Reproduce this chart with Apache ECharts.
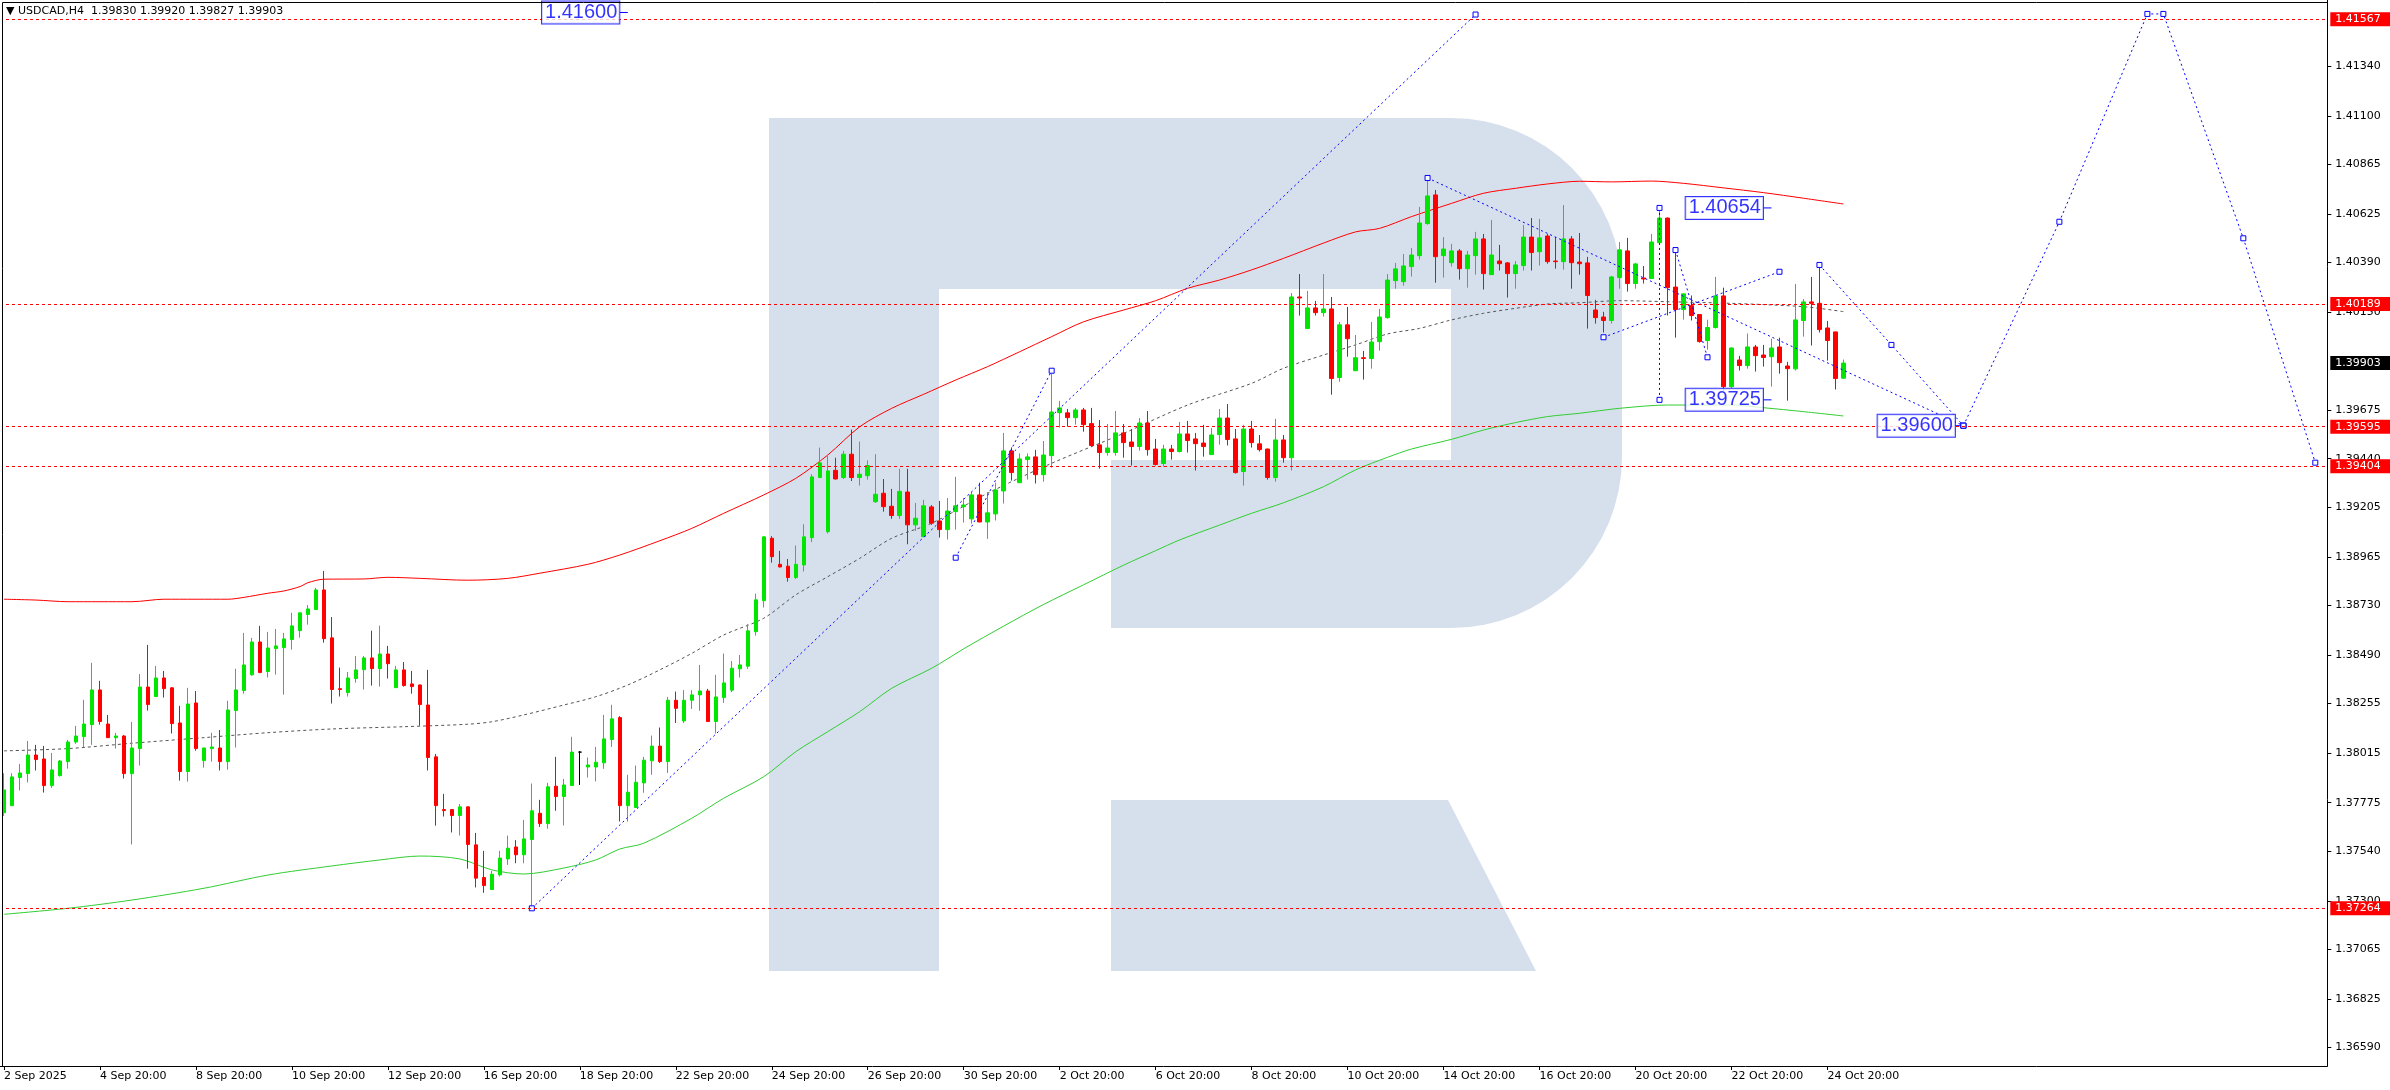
<!DOCTYPE html>
<html><head><meta charset="utf-8">
<script src="https://cdn.jsdelivr.net/npm/echarts@6/dist/echarts.min.js"></script>
<style>html,body{margin:0;padding:0;background:#fff;}#c{width:2390px;height:1090px;}</style>
</head><body><div id="c"></div>
<script>
const symbolName = 'USDCAD,H4';
const totalSlots = 291;
const tickIndex = [0,12,24,36,48,60,72,84,96,108,120,132,144,156,168,180,192,204,216,228];
const tickLabels = ['2 Sep 2025','4 Sep 20:00','8 Sep 20:00','10 Sep 20:00','12 Sep 20:00','16 Sep 20:00','18 Sep 20:00','22 Sep 20:00','24 Sep 20:00','26 Sep 20:00','30 Sep 20:00','2 Oct 20:00','6 Oct 20:00','8 Oct 20:00','10 Oct 20:00','14 Oct 20:00','16 Oct 20:00','20 Oct 20:00','22 Oct 20:00','24 Oct 20:00'];
const yTicks = [1.41340,1.41100,1.40865,1.40625,1.40390,1.40150,1.39675,1.39440,1.39205,1.38965,1.38730,1.38490,1.38255,1.38015,1.37775,1.37540,1.37300,1.37065,1.36825,1.36590];
const yMin = 1.365007, yMax = 1.416604;

const opens = [1.37727,1.37761,1.37897,1.37916,1.38006,1.37987,1.37858,1.37906,1.37974,1.38069,
1.38095,1.38153,1.38321,1.38156,1.38090,1.38098,1.37916,1.38037,1.38335,1.38289,
1.38379,1.38331,1.38161,1.37926,1.38258,1.37979,1.38037,1.38040,1.37974,1.38221,
1.38318,1.38394,1.38553,1.38410,1.38521,1.38526,1.38565,1.38608,1.38686,1.38710,
1.38805,1.38573,1.38327,1.38308,1.38376,1.38419,1.38476,1.38424,1.38495,1.38332,
1.38418,1.38350,1.38345,1.38248,1.37997,1.37742,1.37742,1.37713,1.37755,1.37571,
1.37413,1.37355,1.37426,1.37503,1.37561,1.37523,1.37597,1.37724,1.37674,1.37855,
1.37805,1.37858,1.38020,1.37948,1.37948,1.37968,1.38081,1.38187,1.37761,1.37752,
1.37871,1.37978,1.38049,1.37974,1.38271,1.38171,1.38271,1.38297,1.38316,1.38168,
1.38284,1.38320,1.38423,1.38436,1.38603,1.38753,1.39055,1.38929,1.38920,1.38865,
1.38926,1.39058,1.39349,1.39087,1.39384,1.39349,1.39462,1.39349,1.39358,1.39232,
1.39273,1.39210,1.39165,1.39279,1.39120,1.39063,1.39207,1.39139,1.39097,1.39184,
1.39208,1.39149,1.39265,1.39134,1.39173,1.39284,1.39478,1.39324,1.39436,1.39449,
1.39363,1.39455,1.39663,1.39662,1.39639,1.39676,1.39610,1.39507,1.39470,1.39470,
1.39565,1.39521,1.39499,1.39613,1.39487,1.39417,1.39487,1.39475,1.39560,1.39536,
1.39516,1.39460,1.39557,1.39637,1.39536,1.39378,1.39584,1.39512,1.39487,1.39349,
1.39531,1.39445,1.40223,1.40070,1.40170,1.40147,1.40165,1.39833,1.40088,1.39866,
1.39929,1.39925,1.40007,1.40123,1.40302,1.40297,1.40370,1.40423,1.40578,1.40717,
1.40423,1.40389,1.40446,1.40360,1.40423,1.40504,1.40331,1.40397,1.40388,1.40336,
1.40375,1.40513,1.40442,1.40518,1.40397,1.40394,1.40504,1.40392,1.40388,1.40160,
1.40126,1.40109,1.40317,1.40446,1.40288,1.40315,1.40312,1.40486,1.40605,1.40271,
1.40162,1.40181,1.40138,1.40012,1.40075,1.40228,1.39789,1.39918,1.39891,1.39981,
1.39942,1.39934,1.39981,1.39889,1.39875,1.40109,1.40199,1.40192,1.40073,1.40054,
1.39830];
const highs = [1.37918,1.37918,1.37963,1.38074,1.38055,1.38050,1.38016,1.37982,1.38079,1.38147,
1.38273,1.38452,1.38365,1.38200,1.38113,1.38103,1.38166,1.38398,1.38539,1.38437,
1.38413,1.38335,1.38244,1.38331,1.38316,1.38041,1.38113,1.38127,1.38268,1.38423,
1.38597,1.38573,1.38631,1.38602,1.38616,1.38597,1.38694,1.38695,1.38732,1.38815,
1.38897,1.38674,1.38429,1.38408,1.38485,1.38485,1.38608,1.38632,1.38534,1.38437,
1.38456,1.38413,1.38347,1.38418,1.38011,1.37818,1.37743,1.37769,1.37756,1.37629,
1.37542,1.37445,1.37542,1.37616,1.37594,1.37692,1.37868,1.37789,1.37871,1.37997,
1.37890,1.38094,1.38025,1.37994,1.38045,1.38200,1.38249,1.38194,1.37910,1.37955,
1.37997,1.38100,1.38139,1.38287,1.38313,1.38320,1.38320,1.38442,1.38326,1.38394,
1.38497,1.38461,1.38490,1.38639,1.38787,1.39064,1.39065,1.38994,1.38955,1.39020,
1.39123,1.39365,1.39494,1.39455,1.39445,1.39478,1.39581,1.39523,1.39432,1.39462,
1.39342,1.39294,1.39391,1.39391,1.39226,1.39241,1.39216,1.39236,1.39250,1.39352,
1.39250,1.39279,1.39324,1.39279,1.39324,1.39565,1.39495,1.39466,1.39466,1.39483,
1.39526,1.39850,1.39720,1.39681,1.39686,1.39686,1.39686,1.39628,1.39608,1.39671,
1.39608,1.39584,1.39637,1.39671,1.39536,1.39507,1.39507,1.39618,1.39623,1.39565,
1.39604,1.39589,1.39681,1.39705,1.39584,1.39604,1.39623,1.39555,1.39489,1.39633,
1.39555,1.40242,1.40334,1.40252,1.40204,1.40334,1.40223,1.40102,1.40175,1.40039,
1.39962,1.40102,1.40165,1.40334,1.40388,1.40431,1.40460,1.40659,1.40795,1.40741,
1.40513,1.40480,1.40455,1.40446,1.40538,1.40528,1.40596,1.40475,1.40392,1.40397,
1.40572,1.40605,1.40601,1.40528,1.40513,1.40668,1.40518,1.40533,1.40417,1.40209,
1.40151,1.40325,1.40489,1.40509,1.40388,1.40373,1.40528,1.40654,1.40607,1.40436,
1.40239,1.40230,1.40139,1.40113,1.40320,1.40268,1.39978,1.39938,1.40046,1.39991,
1.39991,1.40021,1.40026,1.39909,1.40286,1.40213,1.40320,1.40378,1.40107,1.40055,
1.39920];
const lows = [1.37711,1.37758,1.37834,1.37873,1.37931,1.37824,1.37847,1.37902,1.37940,1.38060,
1.38044,1.38055,1.38153,1.38088,1.38037,1.37892,1.37573,1.37955,1.38221,1.38287,
1.38284,1.38110,1.37882,1.37877,1.38027,1.37945,1.37974,1.37931,1.37935,1.38042,
1.38303,1.38390,1.38402,1.38381,1.38395,1.38298,1.38516,1.38574,1.38637,1.38708,
1.38550,1.38255,1.38289,1.38289,1.38356,1.38323,1.38342,1.38337,1.38376,1.38331,
1.38337,1.38303,1.38148,1.37931,1.37664,1.37708,1.37631,1.37616,1.37456,1.37365,
1.37339,1.37353,1.37418,1.37474,1.37482,1.37482,1.37264,1.37658,1.37649,1.37736,
1.37665,1.37857,1.37861,1.37897,1.37878,1.37939,1.38045,1.37684,1.37684,1.37750,
1.37823,1.37910,1.37968,1.37919,1.38161,1.38161,1.38229,1.38220,1.38166,1.38110,
1.38258,1.38310,1.38381,1.38423,1.38584,1.38720,1.38937,1.38915,1.38845,1.38858,
1.38894,1.39036,1.39347,1.39078,1.39339,1.39342,1.39332,1.39310,1.39339,1.39226,
1.39184,1.39149,1.39149,1.39026,1.39091,1.39062,1.39120,1.39058,1.39049,1.39097,
1.39131,1.39126,1.39133,1.39052,1.39141,1.39223,1.39334,1.39323,1.39339,1.39320,
1.39329,1.39397,1.39591,1.39595,1.39605,1.39571,1.39499,1.39392,1.39455,1.39455,
1.39445,1.39407,1.39479,1.39455,1.39407,1.39402,1.39436,1.39470,1.39470,1.39383,
1.39450,1.39458,1.39508,1.39504,1.39368,1.39310,1.39494,1.39475,1.39339,1.39329,
1.39421,1.39383,1.40133,1.40068,1.40133,1.40128,1.39750,1.39813,1.39934,1.39865,
1.39823,1.39876,1.39963,1.40118,1.40263,1.40278,1.40322,1.40404,1.40573,1.40292,
1.40317,1.40370,1.40307,1.40268,1.40331,1.40259,1.40330,1.40351,1.40220,1.40263,
1.40351,1.40351,1.40375,1.40384,1.40360,1.40355,1.40263,1.40331,1.40070,1.40094,
1.40051,1.40094,1.40263,1.40249,1.40263,1.40288,1.40310,1.40484,1.40133,1.40026,
1.40113,1.40109,1.40002,1.39968,1.40070,1.39765,1.39780,1.39867,1.39876,1.39862,
1.39886,1.39789,1.39852,1.39721,1.39867,1.40031,1.39988,1.40051,1.39915,1.39775,
1.39827];
const closes = [1.37837,1.37900,1.37919,1.38006,1.37984,1.37858,1.37934,1.37977,1.38069,1.38098,
1.38156,1.38321,1.38168,1.38090,1.38098,1.37916,1.38040,1.38335,1.38250,1.38379,
1.38327,1.38158,1.37926,1.38253,1.38037,1.38040,1.38045,1.37974,1.38224,1.38321,
1.38442,1.38553,1.38405,1.38524,1.38534,1.38568,1.38631,1.38694,1.38713,1.38805,
1.38569,1.38323,1.38323,1.38379,1.38418,1.38476,1.38424,1.38495,1.38448,1.38418,
1.38342,1.38337,1.38250,1.37994,1.37761,1.37737,1.37713,1.37755,1.37573,1.37410,
1.37374,1.37429,1.37507,1.37555,1.37523,1.37600,1.37736,1.37674,1.37852,1.37805,
1.37861,1.38020,1.38020,1.37958,1.37971,1.38084,1.38181,1.37761,1.37826,1.37874,
1.37981,1.38049,1.37974,1.38271,1.38232,1.38271,1.38297,1.38316,1.38168,1.38287,
1.38355,1.38426,1.38442,1.38607,1.38757,1.39062,1.38966,1.38916,1.38865,1.38929,
1.39062,1.39352,1.39420,1.39381,1.39342,1.39462,1.39349,1.39365,1.39407,1.39268,
1.39208,1.39165,1.39282,1.39120,1.39152,1.39212,1.39128,1.39097,1.39187,1.39212,
1.39216,1.39265,1.39134,1.39178,1.39289,1.39478,1.39373,1.39439,1.39449,1.39363,
1.39458,1.39666,1.39686,1.39639,1.39676,1.39605,1.39504,1.39470,1.39492,1.39565,
1.39518,1.39499,1.39613,1.39484,1.39412,1.39487,1.39475,1.39560,1.39528,1.39513,
1.39499,1.39555,1.39637,1.39533,1.39373,1.39584,1.39518,1.39484,1.39349,1.39531,
1.39445,1.40223,1.40218,1.40170,1.40147,1.40165,1.39828,1.40088,1.40021,1.39929,
1.39925,1.40005,1.40126,1.40305,1.40359,1.40373,1.40426,1.40581,1.40712,1.40418,
1.40455,1.40446,1.40360,1.40426,1.40504,1.40336,1.40426,1.40384,1.40336,1.40378,
1.40513,1.40438,1.40509,1.40394,1.40394,1.40504,1.40389,1.40384,1.40230,1.40123,
1.40109,1.40320,1.40451,1.40288,1.40383,1.40310,1.40489,1.40605,1.40268,1.40162,
1.40238,1.40133,1.40007,1.40075,1.40228,1.39789,1.39976,1.39891,1.39981,1.39939,
1.39930,1.39976,1.39905,1.39876,1.40112,1.40199,1.40192,1.40065,1.40012,1.39828,
1.39903];
const dojiBars = [72];

const maUpper = [[0,1.38760],[4,1.38756],[8,1.38748],[16,1.38748],[20,1.38760],[28,1.38760],[30,1.38769],[33,1.38789],[35,1.38800],[37,1.38821],[38,1.38840],[40,1.38857],[45,1.38858],[48,1.38866],[52,1.38861],[58,1.38852],[63,1.38861],[67,1.38886],[73,1.38929],[77,1.38974],[82,1.39043],[86,1.39103],[90,1.39176],[95,1.39265],[99,1.39345],[103,1.39458],[107,1.39595],[111,1.39684],[115,1.39752],[119,1.39821],[123,1.39886],[127,1.39958],[131,1.40031],[135,1.40103],[140,1.40160],[144,1.40205],[148,1.40265],[152,1.40305],[156,1.40354],[160,1.40410],[165,1.40484],[169,1.40538],[172,1.40555],[176,1.40612],[181,1.40676],[185,1.40725],[189,1.40749],[193,1.40770],[197,1.40783],[201,1.40780],[206,1.40784],[210,1.40773],[215,1.40751],[220,1.40728],[225,1.40701],[230,1.40673]];
const maMiddle = [[0,1.38026],[8,1.38037],[16,1.38063],[25,1.38090],[33,1.38114],[41,1.38132],[50,1.38143],[58,1.38155],[61,1.38167],[65,1.38200],[70,1.38248],[74,1.38288],[78,1.38345],[82,1.38418],[86,1.38498],[90,1.38587],[95,1.38668],[99,1.38781],[103,1.38869],[107,1.38958],[111,1.39055],[116,1.39128],[123,1.39273],[131,1.39418],[140,1.39563],[148,1.39700],[156,1.39805],[160,1.39878],[165,1.39942],[169,1.39991],[173,1.40044],[177,1.40071],[181,1.40112],[185,1.40144],[189,1.40168],[193,1.40189],[197,1.40195],[202,1.40205],[208,1.40200],[216,1.40192],[225,1.40176],[230,1.40152]];
const maLower = [[0,1.37235],[8,1.37264],[16,1.37304],[25,1.37361],[33,1.37425],[41,1.37469],[47,1.37498],[52,1.37517],[57,1.37503],[61,1.37450],[65,1.37430],[70,1.37459],[74,1.37498],[77,1.37551],[80,1.37579],[86,1.37700],[90,1.37797],[95,1.37901],[99,1.38022],[103,1.38119],[107,1.38216],[111,1.38329],[116,1.38426],[120,1.38520],[125,1.38630],[130,1.38735],[135,1.38830],[140,1.38925],[144,1.38995],[147,1.39047],[152,1.39119],[156,1.39176],[160,1.39227],[165,1.39305],[169,1.39386],[173,1.39447],[176,1.39487],[181,1.39534],[185,1.39579],[189,1.39615],[193,1.39644],[197,1.39660],[202,1.39684],[208,1.39700],[216,1.39700],[220,1.39687],[225,1.39668],[230,1.39647]];

const hLevels = [1.41567, 1.40189, 1.39595, 1.39404, 1.37264];
const lastPrice = 1.39903;

const trendA = [[66,1.37264],[184,1.41590]];
const trendB = [[119,1.38961],[131,1.39866]];
const trendC = [[178,1.40799],[245,1.39600]];
const trendV = [[207,1.40654],[207,1.39725]];
const trendE = [[209,1.40450],[213,1.39931]];
const trendF = [[200,1.40028],[222,1.40345]];
const trendD = [[227,1.40378],[236,1.39991],[245,1.39600]];
const forecast = [[245,1.39600],[256.5,1.40587],[268,1.41593],[270,1.41593],[279.5,1.40507],[289,1.39421]];

const tagValues = [1.41600, 1.40654, 1.39725, 1.39600];
const tagSlots = [77, 220, 220, 244];
const tagAnchors = [78, 221, 221, 245];

const BLUE = '#0000FF', RED = '#FF0000', GREEN = '#00E600', WM = '#D6E0EC';
const FONT = '"DejaVu Sans", sans-serif';

const categories = Array.from({length: totalSlots}, (_, i) => String(i));
const labelMap = {};
tickIndex.forEach((k, j) => { labelMap[k] = tickLabels[j]; });

const candleData = opens.map((o, i) => {
  const item = {value: [o, closes[i], lows[i], highs[i]]};
  if (dojiBars.includes(i)) item.itemStyle = {color:'#000', color0:'#000', borderColor:'#000', borderColor0:'#000'};
  return item;
});

function blueLine(data) {
  return {
    type: 'line', data: data, z: 4, silent: true, animation: false,
    symbol: 'rect', symbolSize: 5, showSymbol: true,
    itemStyle: {color: '#fff', borderColor: BLUE, borderWidth: 1},
    lineStyle: {color: BLUE, width: 1, type: [2, 3]}
  };
}
function maLine(data, color, type) {
  return {
    type: 'line', data: data, z: 2, silent: true, animation: false,
    symbol: 'none', smooth: 0.3,
    lineStyle: {color: color, width: 1, type: type}
  };
}

const labelBase = {show: true, position: 'end', distance: 3, color: '#fff',
  padding: [2, 10, 1, 5], fontSize: 11, fontFamily: FONT, formatter: p => Number(p.value).toFixed(5)};
const markLineData = hLevels.map(v => ({
  yAxis: v,
  lineStyle: {color: RED, type: [3, 3], width: 1},
  label: Object.assign({}, labelBase, {backgroundColor: RED})
}));
markLineData.push({
  yAxis: lastPrice,
  lineStyle: {color: 'rgba(0,0,0,0)', width: 0},
  label: Object.assign({}, labelBase, {backgroundColor: '#000'})
});

const series = [
  maLine(maUpper, RED, 'solid'),
  maLine(maLower, '#32CD32', 'solid'),
  maLine(maMiddle, '#555555', [3, 3]),
  {
    type: 'candlestick', data: candleData, z: 3, barWidth: 4, animation: false, silent: true,
    itemStyle: {color: GREEN, color0: RED, borderColor: GREEN, borderColor0: RED, borderWidth: 1},
    markLine: {silent: true, precision: 5, symbol: ['none', 'none'], animation: false, data: markLineData}
  },
  blueLine(trendA), blueLine(trendB), blueLine(trendC), blueLine(trendV),
  blueLine(trendE), blueLine(trendF), blueLine(trendD), blueLine(forecast)
];
tagValues.forEach((v, j) => {
  series.push({type: 'line', z: 4, silent: true, animation: false, symbol: 'none',
    data: [[tagSlots[j], v], [tagAnchors[j], v]], lineStyle: {color: BLUE, width: 1}});
});
series.push({
  type: 'scatter', z: 6, silent: true, animation: false, symbol: 'rect', symbolSize: 1,
  itemStyle: {color: 'rgba(0,0,0,0)'},
  data: tagValues.map((v, j) => [tagSlots[j], v]),
  label: {show: true, position: 'left', distance: 0, formatter: p => p.value[1].toFixed(5),
    fontSize: 20, fontFamily: '"Liberation Sans", Arial, sans-serif', color: BLUE,
    backgroundColor: '#fff', borderColor: BLUE, borderWidth: 1, padding: [2, 2, 0, 3]}
});

const header = '\u25BC ' + symbolName + '  ' + [opens[230], highs[230], lows[230], closes[230]].map(v => v.toFixed(5)).join(' ');

const chart = echarts.init(document.getElementById('c'), null, {renderer: 'canvas'});
chart.setOption({
  animation: false,
  backgroundColor: '#fff',
  textStyle: {fontFamily: FONT},
  grid: {left: -0.7, top: 0, width: 2328, height: 1066, containLabel: false},
  xAxis: {
    type: 'category', data: categories, boundaryGap: true,
    axisLine: {show: true, lineStyle: {color: '#000', width: 1}},
    axisTick: {show: true, alignWithLabel: true, length: 4, lineStyle: {color: '#000'},
      interval: (idx) => labelMap[idx] !== undefined},
    axisLabel: {show: true, interval: (idx) => labelMap[idx] !== undefined,
      formatter: (val, idx) => labelMap[idx] || '', align: 'left', margin: 5,
      fontSize: 11, fontFamily: FONT, color: '#000'},
    splitLine: {show: false}
  },
  yAxis: {
    type: 'value', position: 'right', min: yMin, max: yMax, scale: true,
    axisLine: {show: true, lineStyle: {color: '#000', width: 1}},
    axisTick: {show: true, length: 4, lineStyle: {color: '#000'}, customValues: yTicks},
    axisLabel: {show: true, customValues: yTicks, formatter: v => v.toFixed(5), margin: 8,
      fontSize: 11, fontFamily: FONT, color: '#000'},
    splitLine: {show: false}
  },
  graphic: [
    {type: 'rect', z: 0, silent: true, shape: {x: 769, y: 118, width: 170, height: 853}, style: {fill: WM}},
    {type: 'rect', z: 0, silent: true, shape: {x: 939, y: 118, width: 683, height: 510, r: [0, 171, 171, 0]}, style: {fill: WM}},
    {type: 'rect', z: 0, silent: true, shape: {x: 939, y: 289, width: 512, height: 171}, style: {fill: '#fff'}},
    {type: 'rect', z: 0, silent: true, shape: {x: 939, y: 460, width: 172, height: 168}, style: {fill: '#fff'}},
    {type: 'polygon', z: 0, silent: true, shape: {points: [[1111, 800], [1448, 800], [1536, 971], [1111, 971]]}, style: {fill: WM}},
    {type: 'rect', z: 50, silent: true, shape: {x: 0, y: 0, width: 2, height: 1066}, style: {fill: '#fff'}},
    {type: 'line', z: 51, silent: true, shape: {x1: 2.5, y1: 2.5, x2: 2327, y2: 2.5}, style: {stroke: '#000', lineWidth: 1}},
    {type: 'line', z: 51, silent: true, shape: {x1: 2.5, y1: 2.5, x2: 2.5, y2: 1066}, style: {stroke: '#000', lineWidth: 1}},
    {type: 'text', z: 52, silent: true, left: 6, top: 6, style: {text: header, font: '11px "DejaVu Sans"', fill: '#000'}}
  ],
  series: series
});
</script>
</body></html>
